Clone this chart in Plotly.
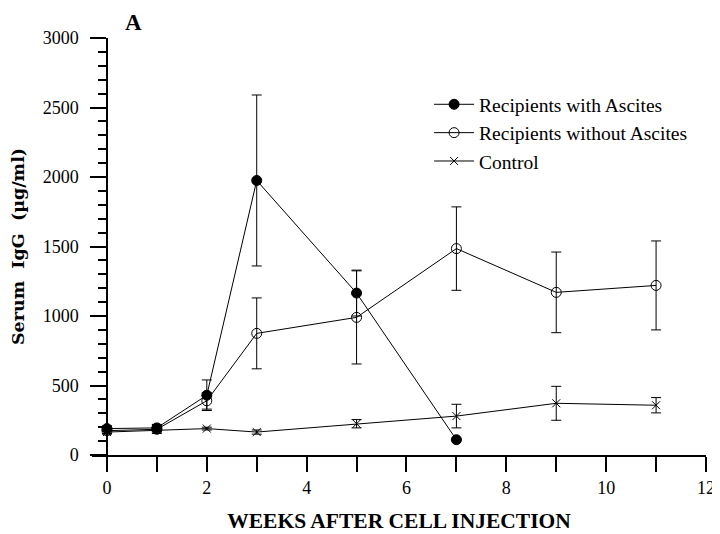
import plotly.graph_objects as go

# weeks after cell injection
weeks_asc = [0, 1, 2, 3, 5, 7]
igg_asc = [190, 195, 430, 1975, 1165, 110]
err_asc = [20, 25, 110, 615, 165, 0]

weeks_noasc = [0, 1, 2, 3, 5, 7, 9, 11]
igg_noasc = [175, 185, 390, 875, 990, 1485, 1170, 1220]
err_noasc = [20, 30, 60, 255, 335, 300, 290, 320]

weeks_ctrl = [0, 1, 2, 3, 5, 7, 9, 11]
igg_ctrl = [165, 180, 190, 165, 225, 280, 372, 358]
err_ctrl = [15, 15, 10, 15, 30, 85, 122, 55]

serif = "Liberation Serif"
wide_serif = "DejaVu Serif"

fig = go.Figure()


def add_series(x, y, err, name, symbol, size, mcolor):
    fig.add_trace(go.Scatter(
        x=x, y=y, name=name, mode="lines+markers",
        line=dict(color="black", width=1),
        marker=dict(symbol=symbol, size=size, color=mcolor,
                    line=dict(color="black", width=1)),
        error_y=dict(type="data", array=err, visible=True,
                     color="black", thickness=1, width=5),
        cliponaxis=False,
    ))


add_series(weeks_asc, igg_asc, err_asc, "Recipients with Ascites", "circle", 10, "black")
add_series(weeks_noasc, igg_noasc, err_noasc, "Recipients without Ascites", "circle-open", 10, "black")
add_series(weeks_ctrl, igg_ctrl, err_ctrl, "Control", "x-thin-open", 8, "black")

# the page body adds an 8px offset, so margins are shifted by 8px
fig.update_layout(
    width=720, height=526,
    margin=dict(l=84, r=22, t=30, b=79),
    plot_bgcolor="white", paper_bgcolor="white",
    showlegend=True,
    legend=dict(x=0.549, y=0.887, xanchor="left", yanchor="top",
                font=dict(family=serif, size=19.5, color="black"),
                bgcolor="rgba(0,0,0,0)", tracegroupgap=0, itemwidth=40),
    annotations=[dict(text="<b>A</b>", x=0.067, y=1.0, xref="paper", yref="paper",
                      xanchor="center", yanchor="bottom", yshift=1, showarrow=False,
                      font=dict(family=serif, size=23, color="black"))],
)

fig.update_xaxes(
    range=[-0.3, 12], showgrid=False, zeroline=False, automargin=False,
    showline=True, linecolor="black", linewidth=2,
    tickmode="array", tickvals=[0, 2, 4, 6, 8, 10, 12],
    ticks="outside", ticklen=15, tickwidth=1.5, tickcolor="black",
    minor=dict(tickvals=[1, 3, 5, 7, 9, 11], ticks="outside", ticklen=15,
               tickwidth=1.5, tickcolor="black"),
    tickfont=dict(family=serif, size=18, color="black"),
    title=dict(text="<b>WEEKS AFTER CELL INJECTION</b>", standoff=16,
               font=dict(family=serif, size=21.5, color="black")),
)

fig.update_yaxes(
    range=[0, 3000], showgrid=False, zeroline=False, automargin=False,
    anchor="free", position=0.3 / 12.3,
    showline=True, linecolor="black", linewidth=1.5,
    tickmode="array", tickvals=[0, 500, 1000, 1500, 2000, 2500, 3000],
    ticks="outside", ticklen=16, tickwidth=1.5, tickcolor="black",
    ticklabelstandoff=8,
    minor=dict(dtick=100, ticks="outside", ticklen=8, tickwidth=1.5, tickcolor="black"),
    tickfont=dict(family=serif, size=18, color="black"),
    title=dict(text="<b>Serum  IgG  (µg/ml)</b>", standoff=14,
               font=dict(family=wide_serif, size=17.5, color="black")),
)

fig.write_html("out.html")
